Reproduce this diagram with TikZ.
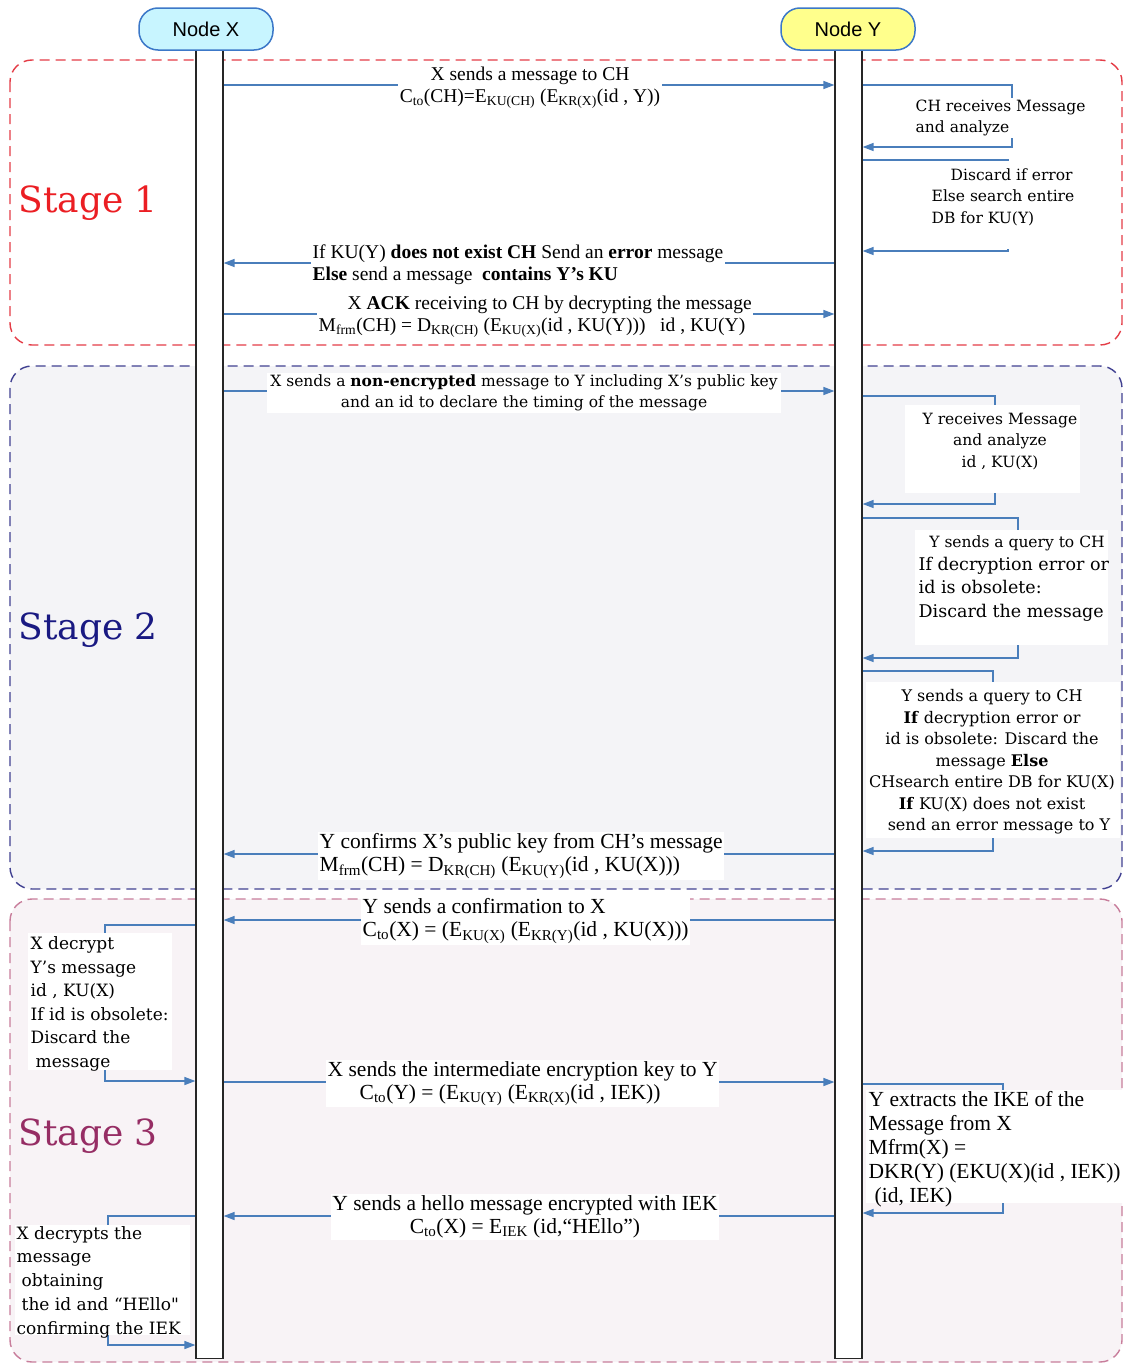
\documentclass[tikz,border=0pt]{standalone}
\usepackage{fontspec}
\setmainfont{Liberation Serif}
\newfontfamily\cent{DejaVu Serif}
\newfontfamily\sansf{Liberation Sans}
\usetikzlibrary{arrows.meta,calc}

\definecolor{arrowblue}{RGB}{74,126,187}
\definecolor{s1col}{RGB}{228,60,70}
\definecolor{s2col}{RGB}{65,65,145}
\definecolor{s3col}{RGB}{200,125,155}
\definecolor{s1txt}{RGB}{235,30,35}
\definecolor{s2txt}{RGB}{25,25,130}
\definecolor{s3txt}{RGB}{150,45,100}
\definecolor{s2fill}{RGB}{244,244,247}
\definecolor{s3fill}{RGB}{248,243,246}
\definecolor{xfill}{RGB}{200,245,255}
\definecolor{yfill}{RGB}{255,255,140}
\definecolor{nodeborder}{RGB}{60,120,200}

\newcommand\sbs[1]{\textsubscript{#1}}
\newcommand\fs[2]{\fontsize{#1}{#2}\selectfont}

\tikzset{
  stagebox/.style={dash pattern=on 10pt off 6pt, line width=1.4pt, rounded corners=22pt},
  lifeline/.style={draw=black!85, fill=white, line width=1.2pt, minimum width=27pt, minimum height=1308pt, anchor=north, inner sep=0pt},
  actor/.style={draw=nodeborder, line width=1.5pt, rounded corners=19pt, minimum width=134pt, minimum height=42pt, font=\sansf\fs{20}{24}},
  msg/.style={draw=arrowblue, line width=1.4pt, -{Triangle[length=11pt,width=8pt]}},
  tlbl/.style={fill=white, inner sep=1.5pt, font=\fs{19.5}{22}},
  tlbltwo/.style={fill=white, inner sep=1.5pt, font=\fs{21.5}{23}},
  clbl/.style={inner sep=1.5pt, font=\cent\fs{15.5}{21.5}},
  wcover/.style={fill=white, draw=none, inner sep=0pt},
  stagelbl/.style={anchor=west, font=\cent\fs{36}{42}}
}

\begin{document}
\begin{tikzpicture}[x=1pt,y=-1pt]
\useasboundingbox (0,0) rectangle (1123,1365);

% stage regions
\draw[stagebox, draw=s1col] (10,60) rectangle (1122,345);
\draw[stagebox, draw=s2col, fill=s2fill] (10,366) rectangle (1122,889);
\draw[stagebox, draw=s3col, fill=s3fill] (10,899) rectangle (1122,1362);

\node[stagelbl, text=s1txt] (st1) at (15,203) {Stage 1};
\node[stagelbl, text=s2txt] (st2) at (15,630) {Stage 2};
\node[stagelbl, text=s3txt] (st3) at (15,1136) {Stage 3};

% lifelines and actors
\node[lifeline] (LX) at (209.5,50) {};
\node[lifeline] (LY) at (848.5,50) {};
\node[actor, fill=xfill] (NX) at (206,29) {Node X};
\node[actor, fill=yfill] (NY) at (848,29) {Node Y};

% ---------- Stage 1 ----------
\draw[msg] (LX.east |- 0,85) -- (LY.west |- 0,85);
\node[tlbl, align=center] (m1) at (530,87.5) {X sends a message to CH\\C\sbs{to}(CH)=E\sbs{KU(CH)} (E\sbs{KR(X)}(id , Y))};

\draw[msg] (LY.east |- 0,85) -| (1012,147) -- (LY.east |- 0,147);
\node[clbl, fill=white, anchor=west, align=left] (s2) at (914,118) {CH receives Message\\and analyze};

\draw[msg] (LY.east |- 0,160) -| (1008,251) -- (LY.east |- 0,251);
\node[wcover, minimum width=150pt, minimum height=88pt] (c3) at (1000,205) {};
\node[clbl, anchor=west, align=left] (s3) at (930,197) {\hspace*{19pt}Discard if error\\Else search entire\\DB for KU(Y)};

\draw[msg] (LY.west |- 0,263) -- (LX.east |- 0,263);
\node[tlbl, anchor=west, align=left] (m4) at (311,265) {If KU(Y) \textbf{does not exist CH} Send an \textbf{error} message\\\textbf{Else} send a message~ \textbf{contains Y’s KU}};

\draw[msg] (LX.east |- 0,314) -- (LY.west |- 0,314);
\node[tlbl, anchor=west, align=left] (m5) at (317,316.5) {\hspace*{29pt}X \textbf{ACK} receiving to CH by decrypting the message\\M\sbs{frm}(CH) = D\sbs{KR(CH)} (E\sbs{KU(X)}(id , KU(Y)))~~ id , KU(Y)};

% ---------- Stage 2 ----------
\draw[msg] (LX.east |- 0,391) -- (LY.west |- 0,391);
\node[clbl, fill=white, align=center, inner xsep=3pt] (m6) at (524,393) {X sends a \textbf{non-encrypted} message to Y including X’s public key\\and an id to declare the timing of the message};

\draw[msg] (LY.east |- 0,396) -| (995,504) -- (LY.east |- 0,504);
\node[wcover, minimum width=175pt, minimum height=88pt] (c7) at (992.5,449) {};
\node[clbl, align=center] (s7) at (1000,441) {Y receives Message\\and analyze\\id , KU(X)};

\draw[msg] (LY.east |- 0,518) -| (1018,658) -- (LY.east |- 0,658);
\node[wcover, minimum width=193pt, minimum height=115pt] (c8) at (1011.5,587.5) {};
\node[clbl] (s8a) at (1017,543) {Y sends a query to CH};
\node[clbl, font=\cent\fs{17.5}{23.5}, anchor=west, align=left] (s8b) at (917,589) {If decryption error or\\id is obsolete:\\Discard the message};

\draw[msg] (LY.east |- 0,671) -| (993,851) -- (LY.east |- 0,851);
\node[wcover, minimum width=254pt, minimum height=156pt] (c9) at (993,760) {};
\node[clbl, font=\cent\fs{16}{21.5}, align=center] (s9) at (992,762) {Y sends a query to CH\\\textbf{If} decryption error or\\id is obsolete: Discard the\\message \textbf{Else}\\CHsearch entire DB for KU(X)\\\textbf{If} KU(X) does not exist\\\hspace*{14pt}send an error message to Y};

\draw[msg] (LY.west |- 0,854) -- (LX.east |- 0,854);
\node[tlbltwo, anchor=west, align=left] (m10) at (318,856) {Y confirms X’s public key from CH’s message\\M\sbs{frm}(CH) = D\sbs{KR(CH)} (E\sbs{KU(Y)}(id , KU(X)))};

% ---------- Stage 3 ----------
\draw[msg] (LY.west |- 0,920) -- (LX.east |- 0,920);
\node[tlbltwo, anchor=west, align=left] (m11) at (361,921) {Y sends a confirmation to X\\C\sbs{to}(X) = (E\sbs{KU(X)} (E\sbs{KR(Y)}(id , KU(X)))};

\draw[msg] (LX.west |- 0,925) -| (105,1081) -- (LX.west |- 0,1081);
\node[wcover, minimum width=144pt, minimum height=137pt] (c12) at (100,1001.5) {};
\node[clbl, font=\cent\fs{17}{23.6}, anchor=west, align=left] (s12) at (29,1004) {X decrypt\\Y’s message\\id , KU(X)\\If id is obsolete:\\Discard the\\\hspace*{5pt}message};

\draw[msg] (LX.east |- 0,1082) -- (LY.west |- 0,1082);
\node[tlbltwo, anchor=west, align=left] (m13) at (326,1083.5) {X sends the intermediate encryption key to Y\\\hspace*{32pt}C\sbs{to}(Y) = (E\sbs{KU(Y)} (E\sbs{KR(X)}(id , IEK))};

\draw[msg] (LY.east |- 0,1084) -| (1003,1213) -- (LY.east |- 0,1213);
\node[wcover, minimum width=257pt, minimum height=113pt] (c14) at (994.5,1146.5) {};
\node[tlbltwo, fill=none, font=\fs{21.5}{24}, anchor=west, align=left] (s14) at (867,1149) {Y extracts the IKE of the\\Message from X\\Mfrm(X) =\\DKR(Y) (EKU(X)(id , IEK))\\\hspace*{6pt}(id, IEK)};

\draw[msg] (LY.west |- 0,1216) -- (LX.east |- 0,1216);
\node[tlbltwo, align=center] (m15) at (525,1217) {Y sends a hello message encrypted with IEK\\C\sbs{to}(X) = E\sbs{IEK} (id,“HEllo”)};

\draw[msg] (LX.west |- 0,1216) -| (108,1345) -- (LX.west |- 0,1345);
\node[wcover, minimum width=175pt, minimum height=110pt] (c16) at (102.5,1280) {};
\node[clbl, font=\cent\fs{17}{23.75}, anchor=west, align=left] (s16) at (15,1282) {X decrypts the\\message\\\hspace*{5pt}obtaining\\\hspace*{5pt}the id and “HEllo"\\confirming the IEK};

\end{tikzpicture}
\end{document}
